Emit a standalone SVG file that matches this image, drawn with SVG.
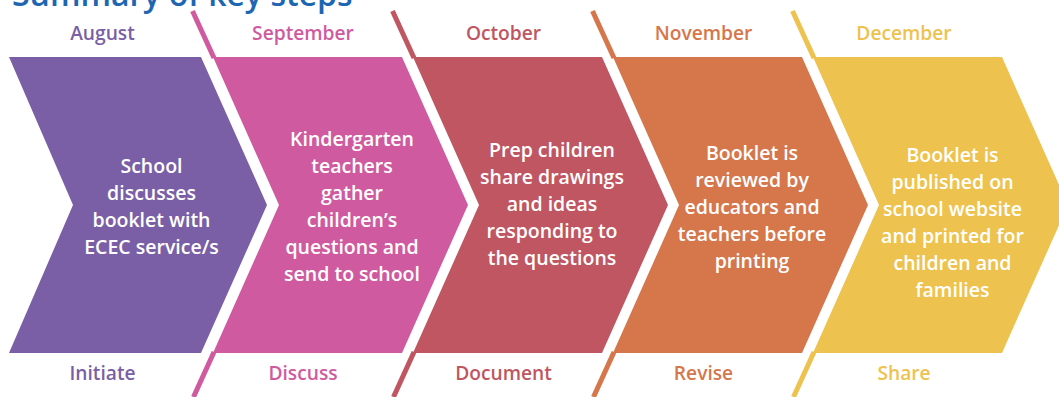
<svg xmlns="http://www.w3.org/2000/svg" width="1059" height="397" viewBox="0 0 1059 397">
  <style>
    .title { font-family: "Open Sans", "Liberation Sans", sans-serif; font-weight: 600; font-size: 32px; fill: #1C66B2; }
    .lbl { font-family: "Open Sans", "Liberation Sans", sans-serif; font-weight: 600; font-size: 19.2px; text-anchor: middle; }
    .body { font-family: "Open Sans", "Liberation Sans", sans-serif; font-weight: 600; font-size: 19.5px; fill: #ffffff; text-anchor: middle; }
    .tick { stroke-width: 5; fill: none; stroke-linecap: butt; }
    .c1 { fill: #7A5FA6; stroke: #7A5FA6; }
    .c2 { fill: #D05A9F; stroke: #D05A9F; }
    .c3 { fill: #BF5661; stroke: #BF5661; }
    .c4 { fill: #D6764B; stroke: #D6764B; }
    .c5 { fill: #EEC24E; stroke: #EEC24E; }
    .shape { stroke: none; }
    .lbl.c1, .lbl.c2, .lbl.c3, .lbl.c4, .lbl.c5 { stroke: none; }
  </style>

  <text class="title" x="12" y="6">Summary of key steps</text>

  <!-- slanted divider strokes between the steps -->
  <g id="connectors">
    <line class="tick c2" x1="192.5" y1="11" x2="214" y2="58"/>
    <line class="tick c2" x1="214" y1="352" x2="193.5" y2="397"/>
    <line class="tick c3" x1="392.5" y1="11" x2="414" y2="58"/>
    <line class="tick c3" x1="414" y1="352" x2="393.5" y2="397"/>
    <line class="tick c4" x1="592.5" y1="11" x2="614" y2="58"/>
    <line class="tick c4" x1="614" y1="352" x2="593.5" y2="397"/>
    <line class="tick c5" x1="792.5" y1="11" x2="814" y2="58"/>
    <line class="tick c5" x1="814" y1="352" x2="793.5" y2="397"/>
  </g>

  <g id="step-initiate">
    <polygon class="shape c1" points="9,57 201,57 267,205 201,353 9,353 73,205"/>
    <text class="lbl c1" x="102.5" y="40">August</text>
    <text class="body" x="151.5" y="173">School</text>
    <text class="body" x="151.5" y="200">discusses</text>
    <text class="body" x="151.5" y="227">booklet with</text>
    <text class="body" x="151.5" y="254">ECEC service/s</text>
    <text class="lbl c1" x="102.5" y="380">Initiate</text>
  </g>

  <g id="step-discuss">
    <polygon class="shape c2" points="213,57 402,57 468,205 402,353 213,353 279,205"/>
    <text class="lbl c2" x="303" y="40">September</text>
    <text class="body" x="352" y="146">Kindergarten</text>
    <text class="body" x="352" y="173">teachers</text>
    <text class="body" x="352" y="200">gather</text>
    <text class="body" x="352" y="227">children’s</text>
    <text class="body" x="352" y="254">questions and</text>
    <text class="body" x="352" y="281">send to school</text>
    <text class="lbl c2" x="303" y="380">Discuss</text>
  </g>

  <g id="step-document">
    <polygon class="shape c3" points="413,57 602,57 668,205 602,353 413,353 479,205"/>
    <text class="lbl c3" x="503.5" y="40">October</text>
    <text class="body" x="552" y="157">Prep children</text>
    <text class="body" x="552" y="184">share drawings</text>
    <text class="body" x="552" y="211">and ideas</text>
    <text class="body" x="552" y="238">responding to</text>
    <text class="body" x="552" y="265">the questions</text>
    <text class="lbl c3" x="503.5" y="380">Document</text>
  </g>

  <g id="step-revise">
    <polygon class="shape c4" points="613,57 802,57 868,205 802,353 613,353 679,205"/>
    <text class="lbl c4" x="703.5" y="40">November</text>
    <text class="body" x="752" y="160">Booklet is</text>
    <text class="body" x="752" y="187">reviewed by</text>
    <text class="body" x="752" y="214">educators and</text>
    <text class="body" x="752" y="241">teachers before</text>
    <text class="body" x="752" y="268">printing</text>
    <text class="lbl c4" x="703.5" y="380">Revise</text>
  </g>

  <g id="step-share">
    <polygon class="shape c5" points="813,57 1002,57 1068,205 1002,353 813,353 879,205"/>
    <text class="lbl c5" x="904" y="40">December</text>
    <text class="body" x="952.5" y="162">Booklet is</text>
    <text class="body" x="952.5" y="189">published on</text>
    <text class="body" x="952.5" y="216">school website</text>
    <text class="body" x="952.5" y="243">and printed for</text>
    <text class="body" x="952.5" y="270">children and</text>
    <text class="body" x="952.5" y="297">families</text>
    <text class="lbl c5" x="904" y="380">Share</text>
  </g>
</svg>
